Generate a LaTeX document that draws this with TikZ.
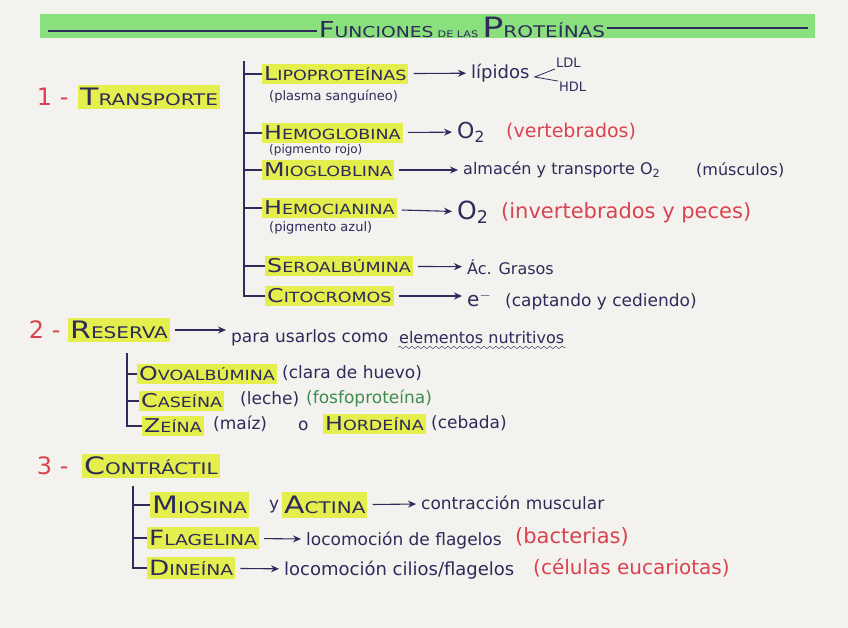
\documentclass[tikz,border=0pt]{standalone}
\usepackage{fontspec}
\setmainfont{DejaVu Sans}
\newfontfamily\widefont[FakeStretch=1.25]{DejaVu Sans}
\usetikzlibrary{arrows.meta,calc,decorations.pathmorphing}

\definecolor{paper}{HTML}{F4F2EF}
\definecolor{ink}{HTML}{2E2A5A}
\definecolor{penred}{HTML}{D8434F}
\definecolor{pengreen}{HTML}{3E8C4E}
\definecolor{marker}{HTML}{E4EE4C}
\definecolor{band}{HTML}{8BE07E}

% fake small caps: big first letter, smaller rest
\newcommand\capname[2]{{\widefont\fontsize{19}{19}\selectfont #1}{\widefont\fontsize{14}{14}\selectfont #2}}
\newcommand\midcapname[2]{{\widefont\fontsize{21}{21}\selectfont #1}{\widefont\fontsize{15}{15}\selectfont #2}}
\newcommand\headname[2]{{\widefont\fontsize{24}{24}\selectfont #1}{\widefont\fontsize{16}{16}\selectfont #2}}

\tikzset{
  hlname/.style={fill=marker, text=ink, inner xsep=2pt, inner ysep=3pt, anchor=west},
  note/.style={text=ink, font=\fontsize{17}{19}\selectfont, inner sep=1pt, anchor=west},
  rednote/.style={note, text=penred},
  small note/.style={note, font=\fontsize{13}{14}\selectfont},
  num/.style={text=penred, font=\fontsize{24}{26}\selectfont, anchor=east},
  arr/.style={ink, line width=1.1pt, -{Stealth[length=8pt,width=7pt]}, shorten <=5pt, shorten >=4pt},
  brk/.style={ink, line width=1.3pt},
}

\begin{document}
\begin{tikzpicture}[x=1pt,y=-1pt]
    % paper
    \fill[paper] (0,0) rectangle (848,628);

    % Title band
    \fill[band] (40,14) rectangle (815,38);
    \node[text=ink, inner sep=2pt] (title) at (462,27)
      {\widefont{\fontsize{22}{22}\selectfont F}{\fontsize{15}{15}\selectfont UNCIONES} {\fontsize{9}{9}\selectfont DE LAS} {\fontsize{28}{28}\selectfont P}{\fontsize{16}{16}\selectfont ROTEÍNAS}};
    \coordinate (bandL) at (48,31);
    \coordinate (bandR) at (808,28);
    \draw[ink, line width=1.3pt] (bandL) -- (title.west |- bandL);
    \draw[ink, line width=1.3pt] (title.east |- bandR) -- (bandR);

    % 1 - Transporte
    \node[num] (n1) at (72,97) {1 -};
    \node[hlname] (transp) at (78,97) {\headname{T}{RANSPORTE}};

    \node[hlname] (lipo) at (262,74) {\capname{L}{IPOPROTEÍNAS}};
    \node[note, font=\fontsize{18}{20}\selectfont] (lipidos) at (470,73) {lípidos};
    \node[note, font=\fontsize{13}{14}\selectfont] (ldl) at (555,63) {LDL};
    \node[note, font=\fontsize{13}{14}\selectfont] (hdl) at (558,87) {HDL};
    \node[small note] (plasma) at (268,97) {(plasma sanguíneo)};

    \node[hlname] (hemo) at (262,133) {\capname{H}{EMOGLOBINA}};
    \node[note, font=\fontsize{22}{24}\selectfont] (o2a) at (456,132) {O\textsubscript{2}};
    \node[rednote, font=\fontsize{19}{21}\selectfont] (vert) at (505,132) {(vertebrados)};
    \node[small note, font=\fontsize{12}{13}\selectfont] (pigrojo) at (268,150) {(pigmento rojo)};

    \node[hlname] (mio) at (262,170) {\capname{M}{IOGLOBLINA}};
    \node[note, font=\fontsize{16}{18}\selectfont] (almac) at (462,170) {almacén y transporte O\textsubscript{2}};
    \node[note, font=\fontsize{16}{18}\selectfont] (musc) at (695,170) {(músculos)};

    \node[hlname] (hemoc) at (262,208) {\capname{H}{EMOCIANINA}};
    \node[note, font=\fontsize{25}{26}\selectfont] (o2b) at (456,212) {O\textsubscript{2}};
    \node[rednote, font=\fontsize{21}{23}\selectfont] (inv) at (500,213) {(invertebrados y peces)};
    \node[small note] (pigazul) at (268,228) {(pigmento azul)};

    \node[hlname] (sero) at (265,266) {\capname{S}{EROALBÚMINA}};
    \node[note, font=\fontsize{16}{18}\selectfont] (acgras) at (466,267) {Ác. Grasos};

    \node[hlname] (cito) at (265,296) {\capname{C}{ITOCROMOS}};
    \node[note, font=\fontsize{20}{22}\selectfont] (elec) at (466,299) {e$^-$};
    \node[note, font=\fontsize{17}{19}\selectfont] (capt) at (504,302) {(captando y cediendo)};

    % bracket 1
    \coordinate (brA) at (244,61);
    \draw[brk] (brA) -- (cito.west -| brA) -- (cito.west);
    \foreach \n in {lipo,hemo,mio,hemoc,sero}
      \draw[brk] (\n.west -| brA) -- (\n.west);

    % arrows 1
    \draw[arr] (lipo) -- (lipidos);
    \draw[arr] (hemo) -- (o2a);
    \draw[arr] (mio) -- (almac);
    \draw[arr] (hemoc) -- (o2b);
    \draw[arr] (sero) -- (acgras);
    \draw[arr] (cito.east) -- (elec.west |- cito.east);
    \draw[ink, thick] (ldl.south west) -- ($(lipidos.east)+(4,4)$) -- (hdl.north west);

    % 2 - Reserva
    \node[num] (n2) at (64,330) {2 -};
    \node[hlname] (reserva) at (68,330) {\headname{R}{ESERVA}};
    \node[note] (para) at (230,338) {para usarlos como};
    \node[note, font=\fontsize{16}{18}\selectfont] (elem) at (398,338) {elementos nutritivos};
    \draw[ink, decorate, decoration={snake, amplitude=1.2pt, segment length=6pt}]
      ([yshift=-2pt]elem.south west) -- ([yshift=-2pt]elem.south east);
    \draw[arr] (reserva.east) -- (para.west |- reserva.east);

    \node[hlname] (ovo) at (137,374) {\capname{O}{VOALBÚMINA}};
    \node[note] (clara) at (281,373) {(clara de huevo)};
    \node[hlname] (case) at (139,401) {\capname{C}{ASEÍNA}};
    \node[note] (leche) at (239,399) {(leche)};
    \node[note, text=pengreen] (fosfo) at (305,398) {(fosfoproteína)};
    \node[hlname] (zeina) at (142,426) {\capname{Z}{EÍNA}};
    \node[note] (maiz) at (212,424) {(maíz)};
    \node[note] (ou) at (297,426) {o};
    \node[hlname] (hord) at (323,424) {\capname{H}{ORDEÍNA}};
    \node[note] (ceb) at (430,423) {(cebada)};

    % bracket 2
    \coordinate (brB) at (127,353);
    \draw[brk] (brB) -- (zeina.west -| brB) -- (zeina.west);
    \foreach \n in {ovo,case}
      \draw[brk] (\n.west -| brB) -- (\n.west);

    % 3 - Contractil
    \node[num] (n3) at (72,466) {3 -};
    \node[hlname] (contr) at (82,466) {\headname{C}{ONTRÁCTIL}};

    \node[hlname, inner ysep=4pt] (miosina) at (150,505) {\headname{M}{IOSINA}};
    \node[note] (y) at (268,507) {y};
    \node[hlname, inner ysep=4pt] (actina) at (282,505) {\headname{A}{CTINA}};
    \node[note] (contrac) at (420,503) {contracción muscular};
    \node[hlname] (flag) at (147,538) {\midcapname{F}{LAGELINA}};
    \node[note] (locflag) at (305,540) {locomoción de flagelos};
    \node[rednote, font=\fontsize{21}{23}\selectfont] (bact) at (514,537) {(bacterias)};
    \node[hlname] (dine) at (147,568) {\midcapname{D}{INEÍNA}};
    \node[note, font=\fontsize{18}{20}\selectfont] (loccil) at (283,570) {locomoción cilios/flagelos};
    \node[rednote, font=\fontsize{20}{22}\selectfont] (euc) at (532,568) {(células eucariotas)};

    % bracket 3
    \coordinate (brC) at (133,486);
    \draw[brk] (brC) -- (dine.west -| brC) -- (dine.west);
    \foreach \n in {miosina,flag}
      \draw[brk] (\n.west -| brC) -- (\n.west);

    % arrows 3
    \draw[arr] (actina) -- (contrac);
    \draw[arr] (flag) -- (locflag);
    \draw[arr] (dine) -- (loccil);
\end{tikzpicture}
\end{document}
